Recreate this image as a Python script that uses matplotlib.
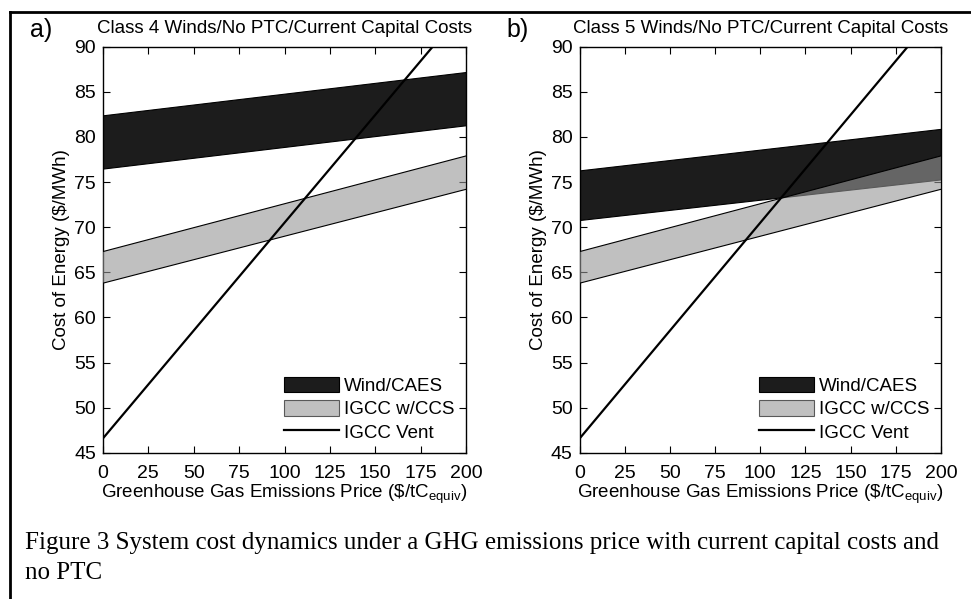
import matplotlib
matplotlib.use("Agg")
import matplotlib.pyplot as plt
from matplotlib.lines import Line2D
from matplotlib.patches import Patch
import numpy as np

## Data (cost of energy, $/MWh, at GHG price 0 and 200 $/tC)
ghg_price = [0, 200]

# panel a) Class 4 winds
wind4_low = [76.5, 81.3]
wind4_high = [82.4, 87.2]
# panel b) Class 5 winds
wind5_low = [70.8, 75.3]
wind5_high = [76.3, 80.9]
# IGCC with capture (same in both panels)
ccs_low = [63.8, 74.2]
ccs_high = [67.3, 77.9]
# IGCC vented (same in both panels)
vent = [46.6, 94.4]

titles = ["Class 4 Winds/No PTC/Current Capital Costs",
          "Class 5 Winds/No PTC/Current Capital Costs"]
panel_tags = ["a)", "b)"]
legend_labels = ["Wind/CAES", "IGCC w/CCS", "IGCC Vent"]
xticks = [0, 25, 50, 75, 100, 125, 150, 175, 200]
yticks = [45, 50, 55, 60, 65, 70, 75, 80, 85, 90]

caption = ("Figure 3 System cost dynamics under a GHG emissions price with current capital costs and\n"
           "no PTC")

plt.rcParams['font.family'] = ['Liberation Sans', 'DejaVu Sans']
plt.rcParams['mathtext.fontset'] = 'custom'
plt.rcParams['mathtext.rm'] = 'Liberation Sans'
plt.rcParams['mathtext.it'] = 'Liberation Sans'

wind_col = '#1c1c1c'
ccs_col = '#969696'

fig = plt.figure(figsize=(9.71, 5.99), dpi=100)
ax_a = fig.add_axes([0.106, 0.244, 0.374, 0.678])
ax_b = fig.add_axes([0.597, 0.244, 0.372, 0.678])

for ax, wl, wh, title, tag in [(ax_a, wind4_low, wind4_high, titles[0], panel_tags[0]),
                               (ax_b, wind5_low, wind5_high, titles[1], panel_tags[1])]:
    ax.fill_between(ghg_price, wl, wh, facecolor=wind_col, edgecolor='black', linewidth=0.8, zorder=2)
    ax.fill_between(ghg_price, ccs_low, ccs_high, facecolor=ccs_col, alpha=0.6, zorder=3)
    ax.plot(ghg_price, ccs_low, color='black', linewidth=0.8, zorder=3)
    ax.plot(ghg_price, ccs_high, color='black', linewidth=0.8, zorder=3)
    ax.plot(ghg_price, vent, color='black', linewidth=1.6, zorder=4)

    ax.set_xlim(0, 200)
    ax.set_ylim(45, 90)
    ax.set_xticks(xticks)
    ax.set_yticks(yticks)
    ax.tick_params(direction='in', top=True, right=True, length=5, width=0.8,
                   labelsize=14, pad=5)
    ax.tick_params(axis='x', pad=9)
    for s in ax.spines.values():
        s.set_linewidth(1.0)
    ax.set_title(title, fontsize=13.5, pad=10)
    ax.set_ylabel("Cost of Energy ($/MWh)", fontsize=13.5, labelpad=3)
    ax.set_xlabel(r"Greenhouse Gas Emissions Price (\$/tC$_{\mathrm{equiv}}$)", fontsize=13.5, labelpad=0)

    handles = [Patch(facecolor=wind_col, edgecolor='black', linewidth=0.8),
               Patch(facecolor=ccs_col, alpha=0.6, edgecolor='black', linewidth=0.8),
               Line2D([0], [0], color='black', linewidth=1.6)]
    ax.legend(handles, legend_labels, loc='lower right', frameon=False, fontsize=13.5,
              handlelength=2.9, handleheight=0.9, labelspacing=0.27, handletextpad=0.3,
              borderaxespad=0.2, bbox_to_anchor=(1.0, 0.0))

    pos = ax.get_position()
    fig.text(pos.x0 - 0.075, 0.95, tag, fontsize=18, va='center', ha='left')

## Caption under the two panels
fig.text(0.026, 0.068, caption, fontsize=18, family='Liberation Serif',
         va='center', ha='left', linespacing=1.45)

## Frame of the scanned page
fig.add_artist(Line2D([0.0103, 1.0], [0.98, 0.98], color='black', linewidth=2.0))
fig.add_artist(Line2D([0.0103, 0.0103], [0.0, 0.98], color='black', linewidth=2.0))

fig.savefig("out.png", dpi=100)
